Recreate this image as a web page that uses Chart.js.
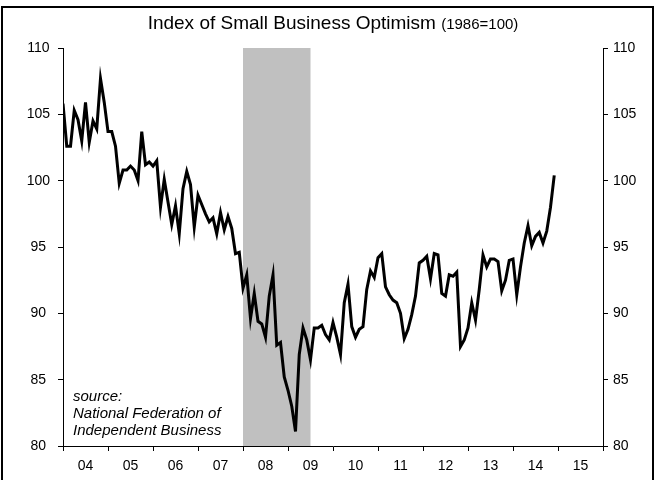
<!DOCTYPE html>
<html>
<head>
<meta charset="utf-8">
<script src="https://cdn.jsdelivr.net/npm/chart.js@4.4.1/dist/chart.umd.min.js"></script>
<style>
  body { margin: 0; background: #fff; font-family: "Liberation Sans", Arial, sans-serif; }
  #wrap { position: relative; width: 656px; height: 480px; overflow: hidden; }
  #frame { position: absolute; left: 1px; top: 6px; width: 649px; height: 500px;
           border: 2.5px solid #000; border-bottom: none; pointer-events: none; }
  #title { position: absolute; left: 63px; width: 540px; top: 12px; text-align: center;
           font-size: 19px; color: #000; white-space: nowrap; }
  #title small { font-size: 15px; }
  #source { position: absolute; left: 73px; top: 387px; font-size: 15px; font-style: italic;
            line-height: 17px; color: #000; }
</style>
</head>
<body>
<div id="wrap">
  <canvas id="chart" width="656" height="480"></canvas>
  <div id="title">Index of Small Business Optimism <small>(1986=100)</small></div>
  <div id="source">source:<br>National Federation of<br>Independent Business</div>
  <div id="frame"></div>
</div>
<script>
// NFIB optimism index, monthly Jan 2004 - Dec 2014
const startYear = 2004;
const optimism = [
  105.8, 102.6, 102.6, 105.3, 104.6, 103.0, 105.9, 102.9, 104.5, 103.9, 107.7, 105.9,
  103.7, 103.7, 102.6, 99.8, 100.8, 100.8, 101.1, 100.8, 100.0, 103.7, 101.2, 101.4,
  101.1, 101.5, 98.0, 100.1, 98.4, 96.7, 98.1, 96.0, 99.4, 100.7, 99.7, 96.5,
  98.9, 98.2, 97.5, 96.9, 97.2, 96.0, 97.6, 96.3, 97.3, 96.4, 94.5, 94.6,
  91.9, 92.9, 89.6, 91.5, 89.4, 89.2, 88.2, 91.3, 92.9, 87.6, 87.8, 85.2,
  84.2, 83.0, 81.1, 86.9, 88.9, 88.0, 86.5, 88.9, 88.9, 89.1, 88.4, 88.0,
  89.3, 88.2, 86.9, 90.8, 92.2, 89.0, 88.2, 88.8, 89.0, 91.8, 93.2, 92.7,
  94.2, 94.5, 92.0, 91.4, 91.0, 90.8, 90.0, 88.1, 88.8, 89.9, 91.3, 93.8,
  94.0, 94.3, 92.6, 94.5, 94.4, 91.5, 91.3, 92.9, 92.8, 93.1, 87.5, 88.0,
  88.9, 90.8, 89.5, 91.8, 94.4, 93.5, 94.1, 94.1, 93.9, 91.7, 92.5, 94.0,
  94.1, 91.4, 93.5, 95.3, 96.6, 95.1, 95.8, 96.1, 95.3, 96.2, 98.0, 100.4
];
const yearLabels = ['04', '05', '06', '07', '08', '09', '10', '11', '12', '13', '14', '15'];
const recessions = [[2008.0, 2009.5]];
const yTicks = [80, 85, 90, 95, 100, 105, 110];

const points = optimism.map((v, i) => ({ x: startYear + i / 12, y: v }));

const recessionShade = {
  id: 'recessionShade',
  beforeDraw(chart) {
    const { ctx, chartArea, scales: { x } } = chart;
    ctx.save();
    ctx.fillStyle = '#c0c0c0';
    recessions.forEach(([a, b]) => {
      const x0 = x.getPixelForValue(a), x1 = x.getPixelForValue(b);
      ctx.fillRect(x0, chartArea.top, x1 - x0, chartArea.bottom - chartArea.top);
    });
    ctx.restore();
  }
};

const tickFont = { family: '"Liberation Sans", Arial, sans-serif', size: 14 };
const lastYear = startYear + yearLabels.length;

new Chart(document.getElementById('chart'), {
  type: 'line',
  data: {
    datasets: [{
      data: points,
      borderColor: '#000',
      borderWidth: 3,
      pointRadius: 0,
      tension: 0,
      yAxisID: 'y'
    }]
  },
  options: {
    responsive: false,
    animation: false,
    layout: { padding: { top: 48, left: 0, right: 0, bottom: 0 } },
    plugins: { legend: { display: false }, tooltip: { enabled: false } },
    scales: {
      x: {
        type: 'linear',
        min: startYear,
        max: lastYear,
        afterBuildTicks: axis => {
          const t = [];
          for (let yr = startYear; yr <= lastYear; yr++) {
            t.push({ value: yr });
            if (yr < lastYear) t.push({ value: yr + 0.5 });
          }
          axis.ticks = t;
        },
        afterFit: scale => { scale.height = 34; },
        ticks: {
          autoSkip: false,
          maxRotation: 0,
          padding: 7,
          color: '#000',
          font: tickFont,
          callback: v => Number.isInteger(v) ? '' : yearLabels[Math.floor(v) - startYear]
        },
        grid: {
          drawOnChartArea: false,
          tickLength: 5,
          color: c => (c.tick && Number.isInteger(c.tick.value)) ? '#000' : 'rgba(0,0,0,0)'
        },
        border: { color: '#000', width: 1 }
      },
      y: {
        position: 'left',
        min: 80,
        max: 110,
        afterBuildTicks: axis => { axis.ticks = yTicks.map(v => ({ value: v })); },
        afterFit: scale => { scale.width = 63; },
        ticks: { color: '#000', font: tickFont, padding: 8, crossAlign: 'center' },
        grid: { drawOnChartArea: false, tickLength: 5, color: '#000' },
        border: { color: '#000', width: 1 }
      },
      y2: {
        position: 'right',
        min: 80,
        max: 110,
        afterBuildTicks: axis => { axis.ticks = yTicks.map(v => ({ value: v })); },
        afterFit: scale => { scale.width = 53; },
        ticks: { color: '#000', font: tickFont, padding: 5 },
        grid: { drawOnChartArea: false, tickLength: 5, color: '#000' },
        border: { color: '#000', width: 1 }
      }
    }
  },
  plugins: [recessionShade]
});
</script>
</body>
</html>
